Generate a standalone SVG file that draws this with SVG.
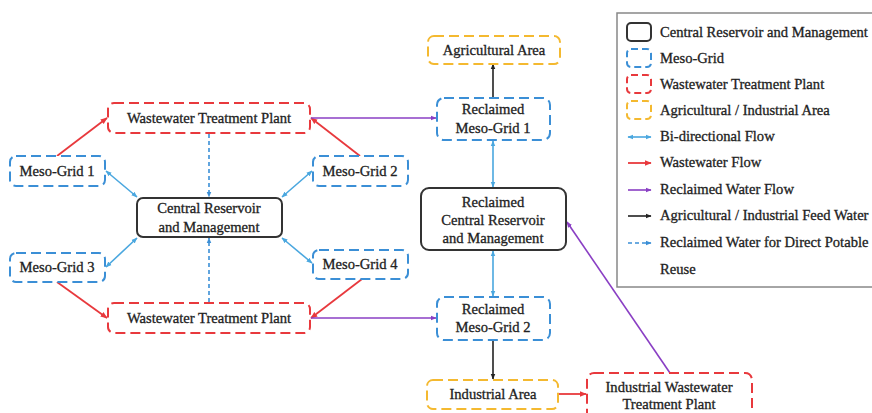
<svg xmlns="http://www.w3.org/2000/svg" width="872" height="413" viewBox="0 0 872 413">
  <style>
    text { font-family: "Liberation Serif", "Times New Roman", serif; font-size: 14.6px; fill: #222; stroke: #222; stroke-width: 0.3; text-anchor: middle; }
    .lg text { text-anchor: start; }
    .box { fill: #fff; stroke-width: 2; }
    .solid { stroke: #333; }
    .meso { stroke: #3b8fd6; stroke-dasharray: 10 5; }
    .wwtp { stroke: #e8393d; stroke-dasharray: 10 5; }
    .area { stroke: #f4b930; stroke-dasharray: 10 5; }
    .bi { stroke: #4aa7df; stroke-width: 1.6; fill: none; marker-start: url(#ab); marker-end: url(#ab); }
    .ww { stroke: #e8393d; stroke-width: 1.8; fill: none; marker-end: url(#ar); }
    .rw { stroke: #8a3fc4; stroke-width: 1.6; fill: none; marker-end: url(#ap); }
    .feed { stroke: #222; stroke-width: 1.6; fill: none; marker-end: url(#ak); }
    .dpr { stroke: #3b8fd6; stroke-width: 1.6; stroke-dasharray: 4 3; fill: none; marker-end: url(#ad); }
  </style>
  <defs>
    <marker id="ab" viewBox="0 0 10 10" refX="9" refY="5" markerWidth="6" markerHeight="6" markerUnits="userSpaceOnUse" orient="auto-start-reverse"><path d="M0,1 L10,5 L0,9 z" fill="#4aa7df"/></marker>
    <marker id="ar" viewBox="0 0 10 10" refX="9" refY="5" markerWidth="7" markerHeight="7" markerUnits="userSpaceOnUse" orient="auto"><path d="M0,1 L10,5 L0,9 z" fill="#e8393d"/></marker>
    <marker id="ap" viewBox="0 0 10 10" refX="9" refY="5" markerWidth="6" markerHeight="6" markerUnits="userSpaceOnUse" orient="auto"><path d="M0,1 L10,5 L0,9 z" fill="#8a3fc4"/></marker>
    <marker id="ak" viewBox="0 0 10 10" refX="9" refY="5" markerWidth="6" markerHeight="6" markerUnits="userSpaceOnUse" orient="auto"><path d="M0,1 L10,5 L0,9 z" fill="#222"/></marker>
    <marker id="ad" viewBox="0 0 10 10" refX="9" refY="5" markerWidth="6" markerHeight="6" markerUnits="userSpaceOnUse" orient="auto"><path d="M0,1 L10,5 L0,9 z" fill="#3b8fd6"/></marker>
  </defs>
  <rect width="872" height="413" fill="#fff"/>

  <g id="connectors">
    <!-- wastewater to treatment plants -->
    <line class="ww" x1="57" y1="156" x2="107" y2="118"/>
    <line class="ww" x1="360" y1="156" x2="311" y2="118"/>
    <line class="ww" x1="57" y1="282" x2="107" y2="318"/>
    <line class="ww" x1="362" y1="279" x2="311" y2="318"/>
    <line class="ww" x1="558" y1="394" x2="586" y2="394"/>
    <!-- bi-directional with central reservoir -->
    <line class="bi" x1="106" y1="171" x2="137" y2="197"/>
    <line class="bi" x1="312" y1="171" x2="282" y2="197"/>
    <line class="bi" x1="106" y1="267" x2="137" y2="238"/>
    <line class="bi" x1="312" y1="263" x2="282" y2="238"/>
    <line class="bi" x1="493" y1="141" x2="493" y2="187"/>
    <line class="bi" x1="493" y1="251" x2="493" y2="296"/>
    <!-- direct potable reuse -->
    <line class="dpr" x1="209" y1="134" x2="209" y2="197"/>
    <line class="dpr" x1="209" y1="302" x2="209" y2="238"/>
    <!-- reclaimed water -->
    <line class="rw" x1="311" y1="118" x2="436" y2="118"/>
    <line class="rw" x1="311" y1="318" x2="436" y2="318"/>
    <line class="rw" x1="670" y1="373" x2="567" y2="222"/>
    <!-- feed water -->
    <line class="feed" x1="493" y1="98" x2="493" y2="64"/>
    <line class="feed" x1="493" y1="341" x2="493" y2="379"/>
  </g>

  <g id="wwtp-top">
    <rect class="box wwtp" x="108" y="103" width="202" height="30" rx="6"/>
    <text x="209" y="123">Wastewater Treatment Plant</text>
  </g>
  <g id="wwtp-bottom">
    <rect class="box wwtp" x="108" y="303" width="202" height="30" rx="6"/>
    <text x="209" y="323">Wastewater Treatment Plant</text>
  </g>
  <g id="meso-grid-1">
    <rect class="box meso" x="10" y="156" width="95" height="30" rx="6"/>
    <text x="57" y="176">Meso-Grid 1</text>
  </g>
  <g id="meso-grid-2">
    <rect class="box meso" x="313" y="156" width="95" height="30" rx="6"/>
    <text x="360" y="176">Meso-Grid 2</text>
  </g>
  <g id="meso-grid-3">
    <rect class="box meso" x="10" y="253" width="95" height="29" rx="6"/>
    <text x="57" y="272">Meso-Grid 3</text>
  </g>
  <g id="meso-grid-4">
    <rect class="box meso" x="313" y="250" width="95" height="29" rx="6"/>
    <text x="360" y="269">Meso-Grid 4</text>
  </g>
  <g id="central-reservoir">
    <rect class="box solid" x="137" y="198" width="145" height="39" rx="6"/>
    <text x="209" y="213">Central Reservoir</text>
    <text x="209" y="232">and Management</text>
  </g>
  <g id="agricultural-area">
    <rect class="box area" x="428" y="36" width="132" height="28" rx="6"/>
    <text x="494" y="55">Agricultural Area</text>
  </g>
  <g id="reclaimed-meso-grid-1">
    <rect class="box meso" x="437" y="98" width="113" height="42" rx="7"/>
    <text x="493" y="114">Reclaimed</text>
    <text x="493" y="133">Meso-Grid 1</text>
  </g>
  <g id="reclaimed-central-reservoir">
    <rect class="box solid" x="421" y="188" width="145" height="62" rx="8"/>
    <text x="493" y="207">Reclaimed</text>
    <text x="493" y="225">Central Reservoir</text>
    <text x="493" y="243">and Management</text>
  </g>
  <g id="reclaimed-meso-grid-2">
    <rect class="box meso" x="437" y="297" width="113" height="43" rx="7"/>
    <text x="493" y="314">Reclaimed</text>
    <text x="493" y="332">Meso-Grid 2</text>
  </g>
  <g id="industrial-area">
    <rect class="box area" x="427" y="380" width="131" height="29" rx="6"/>
    <text x="493" y="399">Industrial Area</text>
  </g>
  <g id="industrial-wwtp">
    <rect class="box wwtp" x="587" y="373" width="165" height="46" rx="7"/>
    <text x="669" y="392">Industrial Wastewater</text>
    <text x="669" y="409">Treatment Plant</text>
  </g>

  <g id="legend" class="lg">
    <rect x="617" y="13" width="265" height="274" fill="#fff" stroke="#888" stroke-width="1.5"/>
    <rect class="box solid" x="627" y="23" width="24" height="18" rx="4"/>
    <text x="660" y="37">Central Reservoir and Management</text>
    <rect class="box meso" x="627" y="49" width="24" height="18" rx="4" style="stroke-dasharray:7 4"/>
    <text x="660" y="63">Meso-Grid</text>
    <rect class="box wwtp" x="627" y="75" width="24" height="18" rx="4" style="stroke-dasharray:7 4"/>
    <text x="660" y="89">Wastewater Treatment Plant</text>
    <rect class="box area" x="627" y="101" width="24" height="18" rx="4" style="stroke-dasharray:7 4"/>
    <text x="660" y="115">Agricultural / Industrial Area</text>
    <line class="bi" x1="628" y1="137" x2="651" y2="137"/>
    <text x="660" y="141">Bi-directional Flow</text>
    <line class="ww" x1="628" y1="163" x2="651" y2="163"/>
    <text x="660" y="167">Wastewater Flow</text>
    <line class="rw" x1="628" y1="190" x2="651" y2="190"/>
    <text x="660" y="194">Reclaimed Water Flow</text>
    <line class="feed" x1="628" y1="216" x2="651" y2="216"/>
    <text x="660" y="220">Agricultural / Industrial Feed Water</text>
    <line class="dpr" x1="628" y1="243" x2="651" y2="243"/>
    <text x="660" y="247">Reclaimed Water for Direct Potable</text>
    <text x="660" y="274">Reuse</text>
  </g>
</svg>
